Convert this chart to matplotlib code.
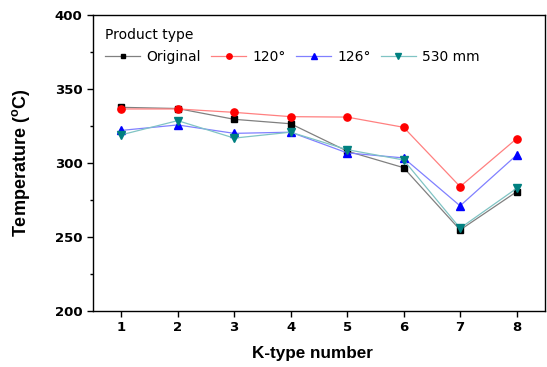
import matplotlib
matplotlib.use("Agg")
import matplotlib.pyplot as plt
from matplotlib.ticker import MultipleLocator

plt.rcParams['font.family'] = ['Liberation Sans', 'DejaVu Sans']

k_type = [1, 2, 3, 4, 5, 6, 7, 8]
original = [337.6, 336.8, 329.5, 326.5, 308.0, 296.8, 254.7, 280.5]
deg120 = [336.5, 336.5, 334.2, 331.3, 331.0, 324.1, 284.0, 316.4]
deg126 = [322.0, 325.7, 320.0, 320.8, 306.8, 303.4, 271.0, 305.3]
mm530 = [319.0, 328.6, 316.8, 320.8, 309.0, 302.0, 255.9, 282.8]

series = [
    ("Original", original, 's', 4.8, 'black', '#808080'),
    ("120°", deg120, 'o', 5.2, 'red', '#ff8080'),
    ("126°", deg126, '^', 5.6, 'blue', '#8080ff'),
    ("530 mm", mm530, 'v', 5.6, '#008080', '#80c4c4'),
]

fig = plt.figure(figsize=(5.47, 3.67), dpi=100)
ax = fig.add_axes([0.170, 0.153, 0.826, 0.806])

for label, vals, mk, ms, mc, lc in series:
    ax.plot(k_type, vals, color=lc, lw=0.9, marker=mk, markersize=ms,
            markerfacecolor=mc, markeredgecolor=mc, label=label)

ax.set_xlim(0.5, 8.5)
ax.set_ylim(200, 400)
ax.set_xticks(k_type)
ax.yaxis.set_major_locator(MultipleLocator(50))
ax.yaxis.set_minor_locator(MultipleLocator(25))
ax.tick_params(axis='both', which='both', direction='out', width=1)
ax.tick_params(axis='both', which='major', length=4, labelsize=9.5, pad=3.5)
ax.tick_params(axis='y', which='minor', length=2.5)
for lab in ax.get_xticklabels() + ax.get_yticklabels():
    lab.set_fontweight('bold')
    lab.set_fontfamily('DejaVu Sans')
for sp in ax.spines.values():
    sp.set_linewidth(1.0)

ax.set_xlabel("K-type number", fontsize=12.3, fontweight='bold')
ax.xaxis.set_label_coords(0.485, -0.118)
ax.set_ylabel("Temperature ($^{\\mathregular{o}}$C)", fontsize=13, fontweight='bold')
ax.yaxis.set_label_coords(-0.135, 0.5)

leg = ax.legend(loc='upper left', ncol=4, frameon=False, title="Product type",
                fontsize=10, title_fontsize=10, handlelength=2.5, columnspacing=0.75,
                handletextpad=0.45, borderaxespad=0.5, markerscale=0.75,
                labelspacing=0.3)
leg._legend_box.align = 'left'
leg._legend_box.sep = 6
for t in leg.get_texts():
    t.set_fontfamily('DejaVu Sans')
leg.get_title().set_fontfamily('DejaVu Sans')

fig.savefig("out.png", dpi=100)
